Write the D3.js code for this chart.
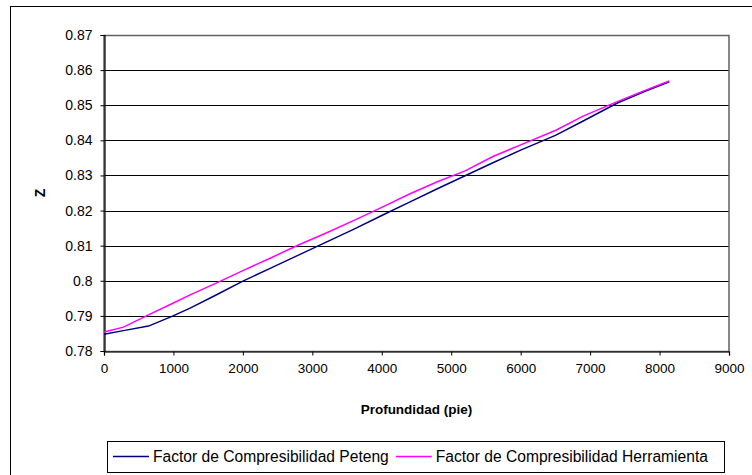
<!DOCTYPE html>
<html>
<head>
<meta charset="utf-8">
<script src="https://cdn.jsdelivr.net/npm/d3@7"></script>
<style>
  body { margin: 0; background: #fff; }
  text { font-family: "Liberation Sans", Arial, sans-serif; }
</style>
</head>
<body>
<div id="chart"></div>
<script>
// depth in feet
var depth = [0, 280, 640, 970, 1240, 1600, 2000, 2400, 2800, 3200, 3600, 4000,
             4400, 4800, 5200, 5600, 6000, 6500, 6900, 7400, 7800, 8140];
// Z values
var zPeteng = [0.7848, 0.7858, 0.7871, 0.7898, 0.7922, 0.7958, 0.7999, 0.8036, 0.8073, 0.8110, 0.8147, 0.8186,
               0.8224, 0.8262, 0.8299, 0.8336, 0.8372, 0.8414, 0.8455, 0.8507, 0.8540, 0.8567];
var zHerramienta = [0.7854, 0.7868, 0.7903, 0.7934, 0.7960, 0.7992, 0.8029, 0.8065, 0.8102, 0.8136, 0.8172, 0.8209,
                    0.8247, 0.8282, 0.8313, 0.8354, 0.8387, 0.8428, 0.8469, 0.8511, 0.8543, 0.8569];
var seriesNames = ["Factor de Compresibilidad Peteng", "Factor de Compresibilidad Herramienta"];
var seriesColors = ["#000080", "#ff00ff"];
var xTicks = [0, 1000, 2000, 3000, 4000, 5000, 6000, 7000, 8000, 9000];
var yTicks = [0.78, 0.79, 0.80, 0.81, 0.82, 0.83, 0.84, 0.85, 0.86, 0.87];

var width = 752, height = 475;
var plotLeft = 104, plotRight = 729, plotTop = 35, plotBottom = 351;

var svg = d3.select("#chart").append("svg")
    .attr("width", width)
    .attr("height", height);

// outer chart border (runs off the picture at right and bottom)
svg.append("rect")
    .attr("x", 10.5).attr("y", 6.5)
    .attr("width", 800).attr("height", 500)
    .attr("fill", "#fff").attr("stroke", "#000").attr("stroke-width", 1);

var x = d3.scaleLinear().domain([0, 9000]).range([plotLeft, plotRight]);
var y = d3.scaleLinear().domain([0.78, 0.87]).range([plotBottom, plotTop]);

// gridlines
svg.append("g")
    .selectAll("line")
    .data(yTicks.slice(1))
    .enter()
    .append("line")
    .attr("x1", plotLeft).attr("x2", plotRight)
    .attr("y1", function (d) { return Math.round(y(d)) + 0.5; })
    .attr("y2", function (d) { return Math.round(y(d)) + 0.5; })
    .attr("stroke", "#000").attr("stroke-width", 1);

// plot area border
svg.append("rect")
    .attr("x", plotLeft).attr("y", plotTop + 0.5)
    .attr("width", plotRight - plotLeft).attr("height", plotBottom - plotTop)
    .attr("fill", "none").attr("stroke", "#606060").attr("stroke-width", 1.5);

// axes
var fmtY = function (d) { return d3.format(".2f")(d).replace(/0$/, ""); };
var yAxis = svg.append("g")
    .attr("transform", "translate(" + (plotLeft + 0.5) + ",0)")
    .call(d3.axisLeft(y).tickValues(yTicks).tickFormat(fmtY).tickSize(4).tickPadding(8));
var xAxis = svg.append("g")
    .attr("transform", "translate(0," + (plotBottom + 0.5) + ")")
    .call(d3.axisBottom(x).tickValues(xTicks).tickFormat(d3.format("d")).tickSize(4).tickPadding(8));

[xAxis, yAxis].forEach(function (a) {
    a.select(".domain").attr("stroke", "#000").attr("stroke-width", 1.2);
    a.selectAll(".tick line").attr("stroke", "#000");
    a.selectAll("text")
        .attr("fill", "#000")
        .style("font-family", "'Liberation Sans', Arial, sans-serif");
});
xAxis.selectAll("text").style("font-size", "13.5px");
yAxis.selectAll("text").style("font-size", "14px");

// series lines
var line = d3.line()
    .x(function (d) { return x(d[0]); })
    .y(function (d) { return y(d[1]); });

[zPeteng, zHerramienta].forEach(function (vals, i) {
    svg.append("path")
        .datum(depth.map(function (dp, j) { return [dp, vals[j]]; }))
        .attr("d", line)
        .attr("fill", "none")
        .attr("stroke", seriesColors[i])
        .attr("stroke-width", 1.5);
});

// axis titles
svg.append("text")
    .attr("x", (plotLeft + plotRight) / 2).attr("y", 414)
    .attr("text-anchor", "middle")
    .style("font-size", "13.5px").style("font-weight", "bold")
    .text("Profundidad (pie)");

svg.append("text")
    .attr("transform", "translate(45," + ((plotTop + plotBottom) / 2) + ") rotate(-90)")
    .attr("text-anchor", "middle")
    .style("font-size", "14px").style("font-weight", "bold")
    .text("Z");

// legend
var legend = svg.append("g");
legend.append("rect")
    .attr("x", 107.5).attr("y", 441.5)
    .attr("width", 617).attr("height", 31)
    .attr("fill", "#fff").attr("stroke", "#000").attr("stroke-width", 1);

var lx = 113;
seriesNames.forEach(function (name, i) {
    legend.append("line")
        .attr("x1", lx).attr("x2", lx + 36)
        .attr("y1", 456.5).attr("y2", 456.5)
        .attr("stroke", seriesColors[i]).attr("stroke-width", 1.5);
    var t = legend.append("text")
        .attr("x", lx + 40).attr("y", 462)
        .style("font-size", "15.6px")
        .text(name);
    lx = lx + 40 + t.node().getComputedTextLength() + 7;
});
</script>
</body>
</html>
